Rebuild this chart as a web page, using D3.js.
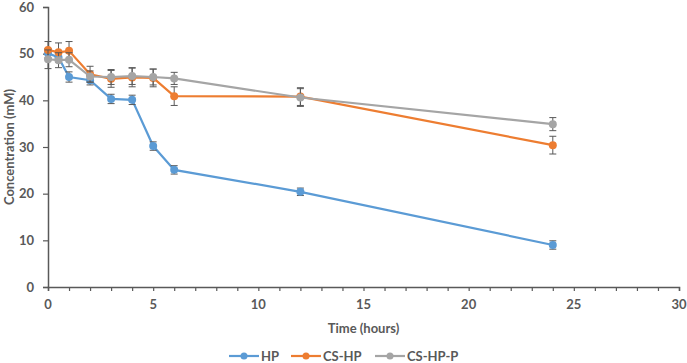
<!DOCTYPE html>
<html>
<head>
<meta charset="utf-8">
<script src="https://cdn.jsdelivr.net/npm/d3@7"></script>
<style>
  body { margin: 0; background: #fff; }
  text { font-family: Lato, "Open Sans", sans-serif; font-weight: bold; fill: #595959; }
</style>
</head>
<body>
<svg id="chart" width="687" height="363"></svg>
<script>
// time points (hours)
const times = [0, 0.5, 1, 2, 3, 4, 5, 6, 12, 24];

// concentration (mM) + SD per series
const hpVals   = [50.1, 49.2, 45.0, 44.3, 40.3, 40.1, 30.2, 25.1, 20.4, 9.0];
const hpErr    = [1.0, 1.0, 1.1, 1.0, 1.0, 1.0, 0.9, 0.9, 0.8, 0.9];
const cshpVals   = [50.8, 50.3, 50.6, 45.6, 44.6, 44.9, 44.8, 40.9, 40.8, 30.4];
const cshpErr    = [1.8, 2.0, 2.0, 1.7, 1.8, 2.0, 1.9, 2.0, 1.9, 1.9];
const cshppVals  = [48.8, 48.6, 48.7, 45.1, 45.0, 45.2, 45.0, 44.7, 40.6, 34.9];
const cshppErr   = [2.0, 1.6, 1.5, 1.2, 1.6, 1.8, 1.7, 1.3, 1.9, 1.4];

const seriesNames = ['HP', 'CS-HP', 'CS-HP-P'];
const seriesColors = ['#5B9BD5', '#ED7D31', '#A5A5A5'];

const xTicks = [0, 5, 10, 15, 20, 25, 30];
const yTicks = [0, 10, 20, 30, 40, 50, 60];

const series = [
  {name: seriesNames[0], color: seriesColors[0], vals: hpVals, err: hpErr},
  {name: seriesNames[1], color: seriesColors[1], vals: cshpVals, err: cshpErr},
  {name: seriesNames[2], color: seriesColors[2], vals: cshppVals, err: cshppErr}
];

const svg = d3.select('#chart');
const x = d3.scaleLinear().domain([0, 30]).range([48, 679]);
const y = d3.scaleLinear().domain([0, 60]).range([287, 7]);
const axisColor = '#595959';

/* y axis */
const yAxis = svg.append('g').attr('transform', `translate(${x(0)},0)`)
  .call(d3.axisLeft(y).tickValues(yTicks).tickSize(5).tickPadding(9));
yAxis.select('.domain').attr('stroke', axisColor).attr('stroke-width', 1.5);
yAxis.selectAll('.tick line').attr('stroke', axisColor).attr('stroke-width', 1.2);
yAxis.selectAll('.tick text').attr('fill', axisColor).style('font-size', '13px')
  .style('font-family', 'Lato, sans-serif').style('font-weight', 'bold');

/* x axis */
const xAxis = svg.append('g').attr('transform', `translate(0,${y(0)})`)
  .call(d3.axisBottom(x).ticks(30).tickSize(4).tickFormat(''));
xAxis.select('.domain').attr('stroke', axisColor).attr('stroke-width', 1.5);
xAxis.selectAll('.tick line').attr('stroke', axisColor).attr('stroke-width', 1.2);
svg.append('g').selectAll('text').data(xTicks).join('text')
  .attr('x', d => x(d)).attr('y', 309)
  .attr('text-anchor', 'middle').style('font-size', '13px')
  .text(d => d);

/* axis titles */
svg.append('text').attr('x', x(15)).attr('y', 333).attr('text-anchor', 'middle')
  .style('font-size', '13px').text('Time (hours)');
svg.append('text').attr('transform', `translate(14,${y(30)}) rotate(-90)`)
  .attr('text-anchor', 'middle').style('font-size', '13px').text('Concentration (mM)');

/* lines, error bars, points */
const line = d3.line().x(d => x(d.t)).y(d => y(d.v));
series.forEach(s => {
  const pts = times.map((t, i) => ({t: t, v: s.vals[i], e: s.err[i]}));
  const g = svg.append('g');
  g.append('path').datum(pts).attr('d', line)
    .attr('fill', 'none').attr('stroke', s.color).attr('stroke-width', 2.2);
  const eb = g.selectAll('.eb').data(pts).join('g').attr('class', 'eb');
  eb.append('line').attr('x1', d => x(d.t)).attr('x2', d => x(d.t))
    .attr('y1', d => y(d.v + d.e)).attr('y2', d => y(d.v - d.e))
    .attr('stroke', '#595959').attr('stroke-width', 1);
  [1, -1].forEach(k => {
    eb.append('line').attr('x1', d => x(d.t) - 3.5).attr('x2', d => x(d.t) + 3.5)
      .attr('y1', d => y(d.v + k * d.e)).attr('y2', d => y(d.v + k * d.e))
      .attr('stroke', '#595959').attr('stroke-width', 1);
  });
  g.selectAll('circle').data(pts).join('circle')
    .attr('cx', d => x(d.t)).attr('cy', d => y(d.v)).attr('r', 4)
    .attr('fill', s.color);
});

/* legend */
const legendX = [229, 291, 375];
const lg = svg.append('g').selectAll('g').data(series).join('g')
  .attr('transform', (d, i) => `translate(${legendX[i]},356)`);
lg.append('line').attr('x1', 0).attr('x2', 30).attr('y1', 0).attr('y2', 0)
  .attr('stroke', d => d.color).attr('stroke-width', 2.2);
lg.append('circle').attr('cx', 15).attr('cy', 0).attr('r', 3.5).attr('fill', d => d.color);
lg.append('text').attr('x', 32).attr('y', 5).style('font-size', '13px').text(d => d.name);
</script>
</body>
</html>
